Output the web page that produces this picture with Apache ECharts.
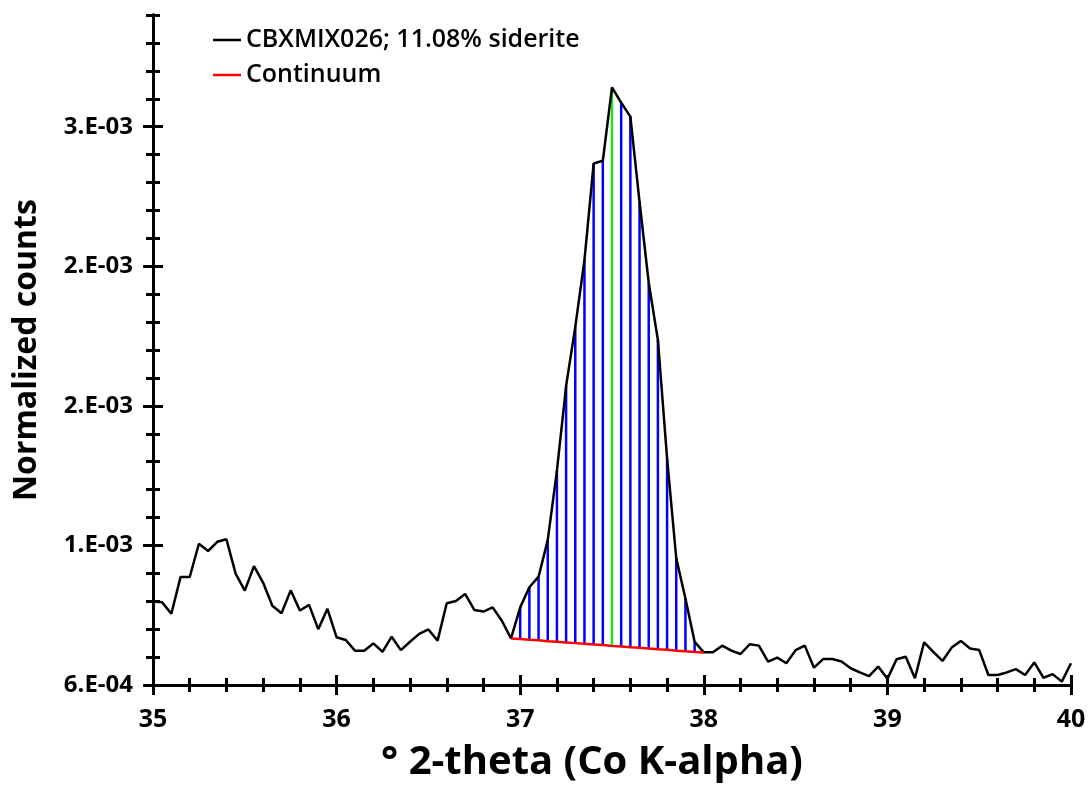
<!DOCTYPE html>
<html>
<head>
<meta charset="utf-8">
<script src="https://cdn.jsdelivr.net/npm/echarts@6/dist/echarts.min.js"></script>
<style>html,body{margin:0;padding:0;background:#fff;}#chart{width:1089px;height:786px;}</style>
</head>
<body>
<div id="chart"></div>
<script>
// ---- data ----
var seriesName = 'CBXMIX026; 11.08% siderite';
var continuumName = 'Continuum';
var twoTheta = [35.00,35.05,35.10,35.15,35.20,35.25,35.30,35.35,35.40,35.45,35.50,35.55,35.60,35.65,35.70,35.75,35.80,35.85,35.90,35.95,
  36.00,36.05,36.10,36.15,36.20,36.25,36.30,36.35,36.40,36.45,36.50,36.55,36.60,36.65,36.70,36.75,36.80,36.85,36.90,36.95,
  37.00,37.05,37.10,37.15,37.20,37.25,37.30,37.35,37.40,37.45,37.50,37.55,37.60,37.65,37.70,37.75,37.80,37.85,37.90,37.95,
  38.00,38.05,38.10,38.15,38.20,38.25,38.30,38.35,38.40,38.45,38.50,38.55,38.60,38.65,38.70,38.75,38.80,38.85,38.90,38.95,
  39.00,39.05,39.10,39.15,39.20,39.25,39.30,39.35,39.40,39.45,39.50,39.55,39.60,39.65,39.70,39.75,39.80,39.85,39.90,39.95,40.00];
var counts = [0.000899,0.000896,0.000855,0.000987,0.000987,0.001106,0.001080,0.001113,0.001122,0.000999,
  0.000938,0.001026,0.000966,0.000884,0.000857,0.000939,0.000867,0.000887,0.000800,0.000873,
  0.000771,0.000761,0.000723,0.000723,0.000749,0.000719,0.000773,0.000725,0.000755,0.000783,
  0.000799,0.000759,0.000893,0.000901,0.000926,0.000869,0.000863,0.000878,0.000830,0.000767,
  0.000878,0.000950,0.000988,0.001119,0.001368,0.001671,0.001883,0.002122,0.002468,0.002478,
  0.002741,0.002686,0.002636,0.002331,0.002041,0.001836,0.001412,0.001054,0.000910,0.000755,
  0.000717,0.000717,0.000741,0.000723,0.000711,0.000746,0.000741,0.000684,0.000698,0.000678,
  0.000725,0.000741,0.000662,0.000693,0.000693,0.000684,0.000660,0.000645,0.000632,0.000666,
  0.000622,0.000692,0.000701,0.000624,0.000753,0.000719,0.000686,0.000734,0.000758,0.000731,
  0.000725,0.000636,0.000636,0.000645,0.000657,0.000636,0.000681,0.000626,0.000639,0.000612,0.000678];
var continuumX = [36.95,37.00,37.05,37.10,37.15,37.20,37.25,37.30,37.35,37.40,37.45,37.50,37.55,37.60,37.65,37.70,37.75,37.80,37.85,37.90,37.95,38.00];
var continuumY = [0.000767,0.000765,0.000762,0.000760,0.000757,0.000755,0.000752,0.000750,0.000748,0.000745,0.000743,
  0.000740,0.000738,0.000735,0.000733,0.000731,0.000728,0.000726,0.000723,0.000721,0.000718,0.000716];
var peakPosition = 37.50;
var xMin = 35, xMax = 40, xInterval = 1;
var yMin = 0.0006, yMax = 0.0030, yMinorInterval = 0.0001;
var yMajorTicks = [0.0006, 0.0011, 0.0016, 0.0021, 0.0026];
var xTitle = '° 2-theta (Co K-alpha)';
var yTitle = 'Normalized counts';

// ---- build ----
var mainData = twoTheta.map(function (x, i) { return [x, counts[i]]; });
var contData = continuumX.map(function (x, i) { return [x, continuumY[i]]; });
var hatchData = [];
for (var i = 1; i < continuumX.length - 1; i++) {
  var x = continuumX[i];
  for (var j = 0; j < twoTheta.length; j++) {
    if (Math.abs(twoTheta[j] - x) < 1e-6) { hatchData.push([x, continuumY[i], counts[j]]); break; }
  }
}

var FONT = 'Open Sans';
function fmtY(v) {
  var s = v.toExponential(0).split('e');
  var e = parseInt(s[1], 10);
  return s[0] + '.E' + (e < 0 ? '-' : '+') + (Math.abs(e) < 10 ? '0' : '') + Math.abs(e);
}
var axLine = { show: true, lineStyle: { color: '#000', width: 3 } };

function yAx(opt) {
  var base = {
    type: 'value', min: yMin, max: yMax, position: 'left',
    axisLine: axLine, splitLine: { show: false },
    axisLabel: { show: false }, axisTick: { show: false }
  };
  for (var k in opt) base[k] = opt[k];
  return base;
}
function xAx(opt) {
  var base = {
    type: 'value', min: xMin, max: xMax, interval: xInterval, position: 'bottom',
    axisLine: axLine, splitLine: { show: false },
    axisLabel: { show: false }, axisTick: { show: false }
  };
  for (var k in opt) base[k] = opt[k];
  return base;
}

var option = {
  animation: false,
  backgroundColor: '#fff',
  grid: { left: 153, right: 18, top: 15, bottom: 101, containLabel: false, outerBoundsMode: 'none' },
  legend: {
    orient: 'vertical', left: 208, top: 22,
    data: [seriesName, continuumName],
    icon: 'rect', itemWidth: 28, itemHeight: 2.5, itemGap: 9,
    textStyle: { fontFamily: FONT, fontSize: 25, fontWeight: 600, color: '#000', lineHeight: 26 }
  },
  xAxis: [
    xAx({
      axisTick: { show: true, inside: false, length: 10, lineStyle: { color: '#000', width: 3 } },
      minorTick: { show: true, splitNumber: 5, length: 7, lineStyle: { color: '#000', width: 3 } },
      axisLabel: { show: true, margin: 22, fontFamily: FONT, fontWeight: 'bold', fontSize: 25, color: '#000' },
      name: xTitle, nameLocation: 'middle', nameGap: 58,
      nameTextStyle: { fontFamily: FONT, fontWeight: 'bold', fontSize: 40, color: '#000', padding: [0, 40, 0, 0] }
    }),
    xAx({
      axisTick: { show: true, inside: true, length: 10, lineStyle: { color: '#000', width: 3 } },
      minorTick: { show: true, splitNumber: 5, length: 7, lineStyle: { color: '#000', width: 3 } }
    })
  ],
  yAxis: [
    yAx({
      interval: yMinorInterval,
      axisTick: { show: true, inside: false, length: 7, lineStyle: { color: '#000', width: 3 } },
      axisLabel: { show: true, customValues: yMajorTicks, formatter: fmtY, margin: 20,
        fontFamily: FONT, fontWeight: 'bold', fontSize: 24, color: '#000' },
      name: yTitle, nameLocation: 'middle', nameGap: 110,
      nameTextStyle: { fontFamily: FONT, fontWeight: 'bold', fontSize: 32, color: '#000' }
    }),
    yAx({
      interval: yMinorInterval,
      axisTick: { show: true, inside: true, length: 7, lineStyle: { color: '#000', width: 3 } }
    }),
    yAx({
      axisTick: { show: true, inside: false, length: 10, customValues: yMajorTicks, lineStyle: { color: '#000', width: 3 } }
    }),
    yAx({
      axisTick: { show: true, inside: true, length: 10, customValues: yMajorTicks, lineStyle: { color: '#000', width: 3 } }
    })
  ],
  series: [
    {
      type: 'custom', name: 'hatch', xAxisIndex: 0, yAxisIndex: 0,
      data: hatchData, encode: { x: 0, y: [1, 2] }, silent: true, z: 1,
      renderItem: function (params, api) {
        var xv = api.value(0);
        var p0 = api.coord([xv, api.value(1)]);
        var p1 = api.coord([xv, api.value(2)]);
        var isPeak = Math.abs(xv - peakPosition) < 1e-6;
        return {
          type: 'line',
          shape: { x1: p0[0], y1: p0[1], x2: p1[0], y2: p1[1] },
          style: { stroke: isPeak ? '#22dd22' : '#0000ff', lineWidth: 2.5 }
        };
      }
    },
    {
      type: 'line', name: seriesName, data: mainData, xAxisIndex: 0, yAxisIndex: 0,
      showSymbol: false, symbol: 'none', color: '#000', z: 3,
      lineStyle: { color: '#000', width: 2.5 }
    },
    {
      type: 'line', name: continuumName, data: contData, xAxisIndex: 0, yAxisIndex: 0,
      showSymbol: false, symbol: 'none', color: '#ff0000', z: 4,
      lineStyle: { color: '#ff0000', width: 2.5 }
    }
  ]
};
var chart = echarts.init(document.getElementById('chart'), null, { renderer: 'canvas' });
chart.setOption(option);
</script>
</body>
</html>
